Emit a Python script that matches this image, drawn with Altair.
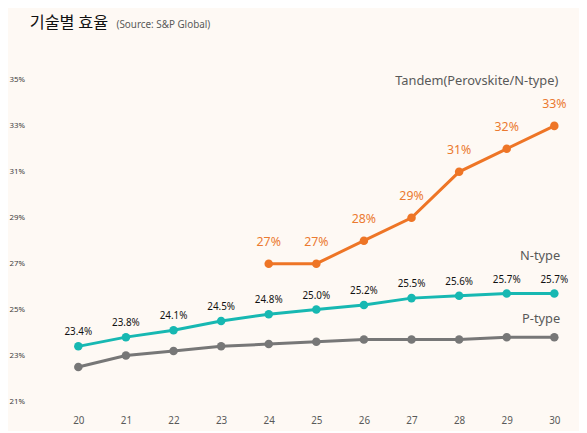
import altair as alt
import pandas as pd

years = [20, 21, 22, 23, 24, 25, 26, 27, 28, 29, 30]
p_type = [22.5, 23.0, 23.2, 23.4, 23.5, 23.6, 23.7, 23.7, 23.7, 23.8, 23.8]
n_type = [23.4, 23.8, 24.1, 24.5, 24.8, 25.0, 25.2, 25.5, 25.6, 25.7, 25.7]
tandem_years = [24, 25, 26, 27, 28, 29, 30]
tandem = [27, 27, 28, 29, 31, 32, 33]

series_names = ["P-type", "N-type", "Tandem(Perovskite/N-type)"]
series_colors = ["#777777", "#17B8B2", "#EE7526"]
point_colors = ["#7F8F90", "#17B8B2", "#EE7526"]

rows = []
for y, v in zip(years, p_type):
    rows.append({"year": y, "value": v, "series": "P-type"})
for y, v in zip(years, n_type):
    rows.append({"year": y, "value": v, "series": "N-type"})
for y, v in zip(tandem_years, tandem):
    rows.append({"year": y, "value": v, "series": "Tandem(Perovskite/N-type)"})
df = pd.DataFrame(rows)

FONT = "Noto Sans"
KFONT = "Noto Sans CJK KR"

x = alt.X("year:Q", scale=alt.Scale(domain=[19.6, 30.27], nice=False),
          axis=alt.Axis(values=years, title=None, grid=False, domain=False, ticks=False,
                        labelColor="#595959", labelFontSize=10, labelFont=FONT,
                        labelPadding=14, format="d"))
y = alt.Y("value:Q", scale=alt.Scale(domain=[21, 35], nice=False, zero=False),
          axis=alt.Axis(values=[21, 23, 25, 27, 29, 31, 33, 35], title=None, grid=False,
                        domain=False, ticks=False, labelAlign="left", labelPadding=51,
                        labelColor="#404040", labelFontSize=8, labelFont=FONT,
                        labelExpr="datum.value + '%'"))

base = alt.Chart(df).encode(x=x, y=y)

lines = base.mark_line(strokeWidth=3).encode(
    color=alt.Color("series:N", scale=alt.Scale(domain=series_names, range=series_colors), legend=None),
    detail="series:N",
)
points = base.mark_circle(size=75, opacity=1).encode(
    color=alt.Color("series:N", scale=alt.Scale(domain=series_names, range=point_colors), legend=None),
)

n_labels = base.transform_filter(alt.datum.series == "N-type").transform_calculate(
    lbl="format(datum.value, '.1f') + '%'"
).mark_text(dy=-14, fontSize=10, font=FONT, color="#111111").encode(text="lbl:N")

t_labels = base.transform_filter(alt.datum.series == "Tandem(Perovskite/N-type)").transform_calculate(
    lbl="format(datum.value, 'd') + '%'"
).mark_text(dy=-22, fontSize=12.5, font=FONT, color="#EB7A30").encode(text="lbl:N")


def end_label(name, dy, dx):
    return base.transform_filter(
        (alt.datum.series == name) & (alt.datum.year == 30)
    ).mark_text(align="right", dy=dy, dx=dx, fontSize=13, font=FONT, color="#595959").encode(
        text="series:N"
    )


tandem_lbl = end_label("Tandem(Perovskite/N-type)", -45, 4)
n_lbl = end_label("N-type", -38, 6)
p_lbl = end_label("P-type", -18, 6)

title = alt.Chart(pd.DataFrame({"t": ["기술별 효율"]})).mark_text(
    align="left", baseline="middle", fontSize=16.5, font=KFONT, color="#111111"
).encode(x=alt.value(-30), y=alt.value(-58), text="t:N")
subtitle = alt.Chart(pd.DataFrame({"t": ["(Source: S&P Global)"]})).mark_text(
    align="left", baseline="middle", fontSize=10, font=FONT, color="#595959"
).encode(x=alt.value(58), y=alt.value(-56), text="t:N")

chart = alt.layer(
    lines, points, n_labels, t_labels, tandem_lbl, n_lbl, p_lbl, title, subtitle
).properties(
    width=515, height=326,
    autosize=alt.AutoSizeParams(type="none"),
    padding={"left": 52, "top": 70, "right": 12, "bottom": 27},
    background="#FEF9F4",
).configure_view(stroke=None)

chart.save("out.html", embed_options={"renderer": "svg", "actions": False})
